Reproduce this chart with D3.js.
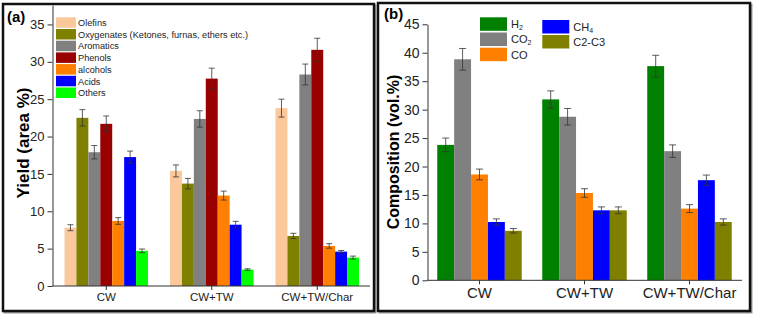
<!DOCTYPE html>
<html>
<head>
<meta charset="utf-8">
<script src="https://cdn.jsdelivr.net/npm/d3@7"></script>
<style>
  body { margin: 0; background: #fff; }
  svg { display: block; font-family: "Liberation Sans", Arial, sans-serif; }
</style>
</head>
<body>
<div id="chart"></div>
<script>
const categories = ["CW", "CW+TW", "CW+TW/Char"];

// panel (a): liquid products, rows = series, cols = categories
const liquidSeries = ["Olefins", "Oxygenates (Ketones, furnas, ethers etc.)", "Aromatics", "Phenols", "alcohols", "Acids", "Others"];
const liquidColors = ["#fbc89c", "#808000", "#808080", "#990000", "#ff8000", "#0000ff", "#00ff00"];
const liquidYield = [
  [7.8, 15.4, 23.8],
  [22.5, 13.7, 6.7],
  [17.9, 22.35, 28.3],
  [21.7, 27.75, 31.6],
  [8.7, 12.1, 5.36],
  [17.25, 8.2, 4.6],
  [4.7, 2.2, 3.8]
];
const liquidErr = [
  [0.4, 0.8, 1.2],
  [1.1, 0.7, 0.35],
  [0.9, 1.1, 1.4],
  [1.05, 1.4, 1.55],
  [0.45, 0.6, 0.3],
  [0.8, 0.45, 0.15],
  [0.25, 0.1, 0.2]
];
const liquidTicks = [0, 5, 10, 15, 20, 25, 30, 35];

// panel (b): gas composition
const gasSeries = ["H2", "CO2", "CO", "CH4", "C2-C3"];
const gasColors = ["#008000", "#808080", "#ff8000", "#0000ff", "#808000"];
const gasComp = [
  [23.8, 31.8, 37.65],
  [38.85, 28.75, 22.7],
  [18.6, 15.35, 12.6],
  [10.25, 12.3, 17.6],
  [8.7, 12.3, 10.25]
];
const gasErr = [
  [1.2, 1.5, 1.9],
  [1.9, 1.45, 1.1],
  [0.95, 0.75, 0.7],
  [0.55, 0.6, 0.9],
  [0.4, 0.6, 0.55]
];
const gasTicks = [0, 5, 10, 15, 20, 25, 30, 35, 40, 45];

const svg = d3.select("#chart").append("svg")
  .attr("width", 757)
  .attr("height", 317);

function frame(x, y, w, h) {
  svg.append("rect")
    .attr("x", x + 1.5).attr("y", y + 1.5).attr("width", w).attr("height", h)
    .attr("fill", "none").attr("stroke", "#999").attr("stroke-width", 2);
  svg.append("rect")
    .attr("x", x).attr("y", y).attr("width", w).attr("height", h)
    .attr("fill", "#fff").attr("stroke", "#111").attr("stroke-width", 2.5);
}

function drawPanel(o) {
  const x = d3.scaleBand().domain(categories).range(o.xRange);
  const inner = d3.scaleBand().domain(d3.range(o.series.length))
    .range([-o.groupWidth / 2, o.groupWidth / 2]);
  const y = d3.scaleLinear().domain(o.yDomain).range(o.yRange);

  const g = svg.append("g");

  const rows = [];
  o.values.forEach((vals, s) => vals.forEach((v, c) => {
    rows.push({ s, c, v, e: o.errors[s][c] });
  }));

  g.selectAll("rect.bar")
    .data(rows)
    .join("rect")
    .attr("class", "bar")
    .attr("x", (d) => x(categories[d.c]) + x.bandwidth() / 2 + inner(d.s))
    .attr("width", inner.bandwidth())
    .attr("y", (d) => y(d.v))
    .attr("height", (d) => y(0) - y(d.v))
    .attr("fill", (d) => o.colors[d.s]);

  const eb = g.selectAll("g.err")
    .data(rows)
    .join("g")
    .attr("class", "err")
    .attr("stroke", "#333")
    .attr("stroke-width", 0.8)
    .attr("transform", (d) => `translate(${x(categories[d.c]) + x.bandwidth() / 2 + inner(d.s) + inner.bandwidth() / 2},0)`);
  eb.append("line")
    .attr("y1", (d) => y(d.v - d.e)).attr("y2", (d) => y(d.v + d.e));
  eb.append("line")
    .attr("x1", -o.cap).attr("x2", o.cap)
    .attr("y1", (d) => y(d.v + d.e)).attr("y2", (d) => y(d.v + d.e));
  eb.append("line")
    .attr("x1", -o.cap).attr("x2", o.cap)
    .attr("y1", (d) => y(d.v - d.e)).attr("y2", (d) => y(d.v - d.e));

  const xAxis = g.append("g")
    .attr("transform", `translate(0,${o.yRange[0]})`)
    .call(d3.axisBottom(x).tickSizeInner(4).tickSizeOuter(0).tickPadding(3));
  xAxis.select(".domain").attr("d", `M${o.axisX0},0H${o.xRange[1]}`);
  xAxis.selectAll("text").attr("font-size", o.xFont).attr("fill", "#222");

  const yAxis = g.append("g")
    .attr("transform", `translate(${o.axisX0},0)`)
    .call(d3.axisLeft(y).tickValues(o.ticks).tickSizeInner(5).tickSizeOuter(0).tickPadding(3));
  yAxis.selectAll("text").attr("font-size", o.yFont).attr("fill", "#222");
  g.selectAll(".domain, .tick line").attr("stroke", "#333");

  svg.append("text")
    .attr("transform", `translate(${o.labelX},${o.labelY}) rotate(-90)`)
    .attr("text-anchor", "middle")
    .attr("font-weight", "bold")
    .attr("font-size", o.labelFont)
    .text(o.label);

  svg.append("text")
    .attr("x", o.tagX).attr("y", o.tagY)
    .attr("font-weight", "bold")
    .attr("font-size", 15)
    .text(o.tag);
}

// panel (a)
frame(3, 4, 371, 307);
drawPanel({
  series: liquidSeries, colors: liquidColors, values: liquidYield, errors: liquidErr,
  xRange: [53.5, 370], axisX0: 52.5, groupWidth: 83.5, cap: 3,
  yDomain: [0, 37.6], yRange: [286, 5], ticks: liquidTicks,
  xFont: 11.5, yFont: 13,
  label: "Yield (area %)", labelX: 29, labelY: 143, labelFont: 17,
  tag: "(a)", tagX: 7, tagY: 22
});

// panel (b)
frame(378, 3, 372, 308);
drawPanel({
  series: gasSeries, colors: gasColors, values: gasComp, errors: gasErr,
  xRange: [427, 742], axisX0: 427.5, groupWidth: 84.5, cap: 3.5,
  yDomain: [0, 45], yRange: [280.3, 24.3], ticks: gasTicks,
  xFont: 15, yFont: 14,
  label: "Composition (vol.%)", labelX: 399, labelY: 152, labelFont: 16,
  tag: "(b)", tagX: 384, tagY: 19
});

// legend (a)
const legA = svg.append("g").selectAll("g")
  .data(liquidSeries)
  .join("g")
  .attr("transform", (d, i) => `translate(56,${17.3 + i * 11.7})`);
legA.append("rect")
  .attr("width", 20).attr("height", 10.5)
  .attr("fill", (d, i) => liquidColors[i]);
legA.append("text")
  .attr("x", 22).attr("y", 5.5).attr("dy", "0.35em")
  .attr("font-size", 9.2).attr("fill", "#222")
  .text((d) => d);

// legend (b), two columns, chemical subscripts
const legBPos = [[480, 17.3], [480, 32.5], [480, 47.7], [542.3, 20], [542.3, 35]];
const legB = svg.append("g").selectAll("g")
  .data(gasSeries)
  .join("g")
  .attr("transform", (d, i) => `translate(${legBPos[i][0]},${legBPos[i][1]})`);
legB.append("rect")
  .attr("width", 27)
  .attr("height", 13.5)
  .attr("fill", (d, i) => gasColors[i]);
legB.each(function (d) {
  const t = d3.select(this).append("text")
    .attr("x", 31).attr("y", 7).attr("dy", "0.35em")
    .attr("font-size", 11).attr("fill", "#222");
  const m = d.match(/^([A-Z][A-Z]?)(\d)$/);
  if (m) {
    t.append("tspan").text(m[1]);
    t.append("tspan").attr("font-size", 7).attr("dy", 2).text(m[2]);
  } else {
    t.text(d);
  }
});
</script>
</body>
</html>
